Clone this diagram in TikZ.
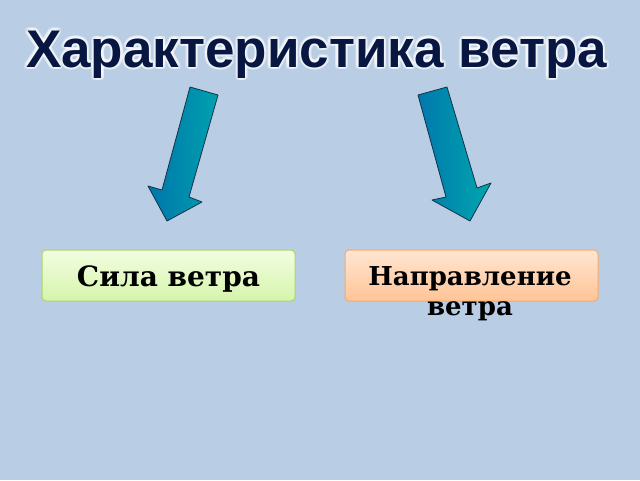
\documentclass[tikz,border=0pt]{standalone}
\usepackage{fontspec}
\setmainfont{DejaVu Serif}
\newfontfamily\headfont{Liberation Sans}
\usetikzlibrary{positioning,calc}
\definecolor{bgblue}{RGB}{185,205,228}
\definecolor{headnavy}{RGB}{8,22,66}
\definecolor{arrowdark}{RGB}{0,104,170}
\definecolor{arrowlight}{RGB}{0,178,176}
\definecolor{arrowedge}{RGB}{20,50,70}
\definecolor{greentop}{RGB}{242,253,224}
\definecolor{greenbot}{RGB}{214,244,172}
\definecolor{greenedge}{RGB}{170,214,112}
\definecolor{orangetop}{RGB}{255,230,210}
\definecolor{orangebot}{RGB}{255,196,150}
\definecolor{orangeedge}{RGB}{248,170,108}

\begin{document}
\begin{tikzpicture}
		[x=1pt,y=-1pt,
			heading/.style={font=\headfont\bfseries\fontsize{53}{60}\selectfont,anchor=base},
			box/.style={rounded corners=4pt,minimum width=253pt,minimum height=51pt,
					draw,line width=1pt},
			boxtext/.style={font=\bfseries\fontsize{28}{30}\selectfont,align=center},
			arrowshade/.style={left color=arrowdark,right color=arrowlight},
			arrowline/.style={draw=arrowedge,line width=0.8pt,line join=round}]
		\fill[bgblue] (0,0) rectangle (640,480);
		\useasboundingbox (0,0) rectangle (640,480);
		% glowing title
		\foreach \ang in {0,30,...,330}
			{
				\node[heading,text=white,opacity=0.3] at ($(316.5,67)+(\ang:2.5)$) {Характеристика ветра};
			}
		\node[heading,text=headnavy] (Title) at (316.5,67) {Характеристика ветра};
		% arrows
		\def\windleft{(190,87) -- (218,95) -- (189,197) -- (202,202) -- (167,221)
			-- (148,186) -- (162,190) -- cycle}
		\def\windright{(418,95) -- (447,87) -- (477,188) -- (491,183) -- (470,221)
			-- (432,200) -- (446,197) -- cycle}
		\begin{scope}
			\clip \windleft;
			\shade[arrowshade,rotate around={-16:(186,155)}] (154,55) rectangle (218,255);
		\end{scope}
		\draw[arrowline] \windleft;
		\begin{scope}
			\clip \windright;
			\shade[arrowshade,rotate around={16:(451,155)}] (419,55) rectangle (483,255);
		\end{scope}
		\draw[arrowline] \windright;
		% boxes
		\node[box,draw=greenedge,top color=greentop,bottom color=greenbot] (Force) at (168.5,275.5) {};
		\node[boxtext,anchor=base] (ForceText) at (168.5,286.5) {Сила ветра};
		\node[box,draw=orangeedge,top color=orangetop,bottom color=orangebot] (Direction) at (471.5,275.5) {};
		\node[boxtext,font=\bfseries\fontsize{26}{30}\selectfont,anchor=north,inner sep=0pt]
		(DirText) at (470,266) {Направление\\ветра};
	\end{tikzpicture}
\end{document}
